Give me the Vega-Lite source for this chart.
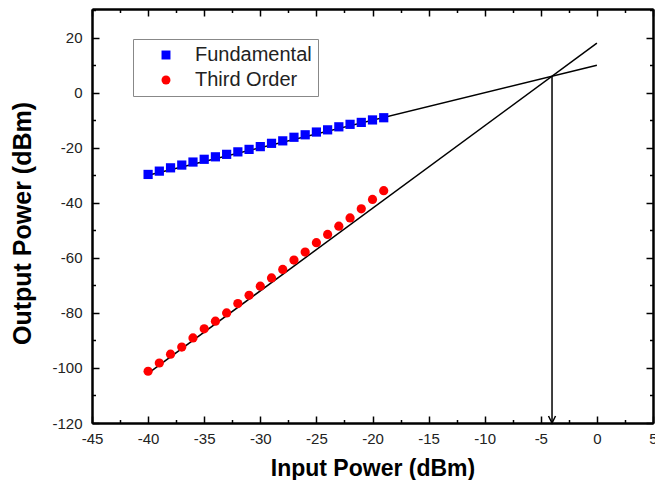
{
  "$schema": "https://vega.github.io/schema/vega-lite/v6.json",
  "width": 561,
  "height": 414,
  "autosize": {"type": "none"},
  "padding": {"left": 92, "top": 9, "right": 2, "bottom": 57},
  "background": "white",
  "config": {
    "view": {"stroke": null},
    "axis": {
      "grid": false,
      "domainColor": "black",
      "domainWidth": 2,
      "tickColor": "black",
      "tickWidth": 1.5,
      "labelFont": "Liberation Sans",
      "labelFontSize": 15,
      "labelColor": "#222",
      "titleFont": "Liberation Sans",
      "titleFontWeight": "bold",
      "titleColor": "black"
    },
    "legend": {
      "strokeColor": "#888",
      "fillColor": "white",
      "padding": 6,
      "labelFont": "Liberation Sans",
      "labelFontSize": 20,
      "labelColor": "#222",
      "labelOffset": 19,
      "symbolOffset": 17,
      "rowPadding": 5,
      "symbolSize": 80,
      "symbolStrokeWidth": 0
    }
  },
  "datasets": {
    "points": [
      {"series": "Fundamental", "x": -40, "y": -29.7},
      {"series": "Fundamental", "x": -39, "y": -28.5},
      {"series": "Fundamental", "x": -38, "y": -27.3},
      {"series": "Fundamental", "x": -37, "y": -26.3},
      {"series": "Fundamental", "x": -36, "y": -25.2},
      {"series": "Fundamental", "x": -35, "y": -24.2},
      {"series": "Fundamental", "x": -34, "y": -23.3},
      {"series": "Fundamental", "x": -33, "y": -22.4},
      {"series": "Fundamental", "x": -32, "y": -21.5},
      {"series": "Fundamental", "x": -31, "y": -20.6},
      {"series": "Fundamental", "x": -30, "y": -19.6},
      {"series": "Fundamental", "x": -29, "y": -18.4},
      {"series": "Fundamental", "x": -28, "y": -17.5},
      {"series": "Fundamental", "x": -27, "y": -16.2},
      {"series": "Fundamental", "x": -26, "y": -15.3},
      {"series": "Fundamental", "x": -25, "y": -14.3},
      {"series": "Fundamental", "x": -24, "y": -13.5},
      {"series": "Fundamental", "x": -23, "y": -12.4},
      {"series": "Fundamental", "x": -22, "y": -11.5},
      {"series": "Fundamental", "x": -21, "y": -10.8},
      {"series": "Fundamental", "x": -20, "y": -9.9},
      {"series": "Fundamental", "x": -19, "y": -9.1},
      {"series": "Third Order", "x": -40, "y": -101.2},
      {"series": "Third Order", "x": -39, "y": -98.2},
      {"series": "Third Order", "x": -38, "y": -95.0},
      {"series": "Third Order", "x": -37, "y": -92.4},
      {"series": "Third Order", "x": -36, "y": -89.1},
      {"series": "Third Order", "x": -35, "y": -85.8},
      {"series": "Third Order", "x": -34, "y": -83.0},
      {"series": "Third Order", "x": -33, "y": -80.0},
      {"series": "Third Order", "x": -32, "y": -76.6},
      {"series": "Third Order", "x": -31, "y": -73.6},
      {"series": "Third Order", "x": -30, "y": -70.3},
      {"series": "Third Order", "x": -29, "y": -67.3},
      {"series": "Third Order", "x": -28, "y": -64.2},
      {"series": "Third Order", "x": -27, "y": -60.8},
      {"series": "Third Order", "x": -26, "y": -57.9},
      {"series": "Third Order", "x": -25, "y": -54.5},
      {"series": "Third Order", "x": -24, "y": -51.5},
      {"series": "Third Order", "x": -23, "y": -48.5},
      {"series": "Third Order", "x": -22, "y": -45.5},
      {"series": "Third Order", "x": -21, "y": -42.2},
      {"series": "Third Order", "x": -20, "y": -38.8},
      {"series": "Third Order", "x": -19, "y": -35.6}
    ],
    "fits": [
      {"fit": "fundamental", "x": -40, "y": -30},
      {"fit": "fundamental", "x": 0, "y": 10},
      {"fit": "third", "x": -40, "y": -102},
      {"fit": "third", "x": 0, "y": 18}
    ],
    "arrow": [{"x": -4, "y": 6, "y2": -120}]
  },
  "layer": [
    {
      "data": {"name": "fits"},
      "mark": {"type": "line", "color": "black", "strokeWidth": 1.5},
      "encoding": {
        "x": {
          "field": "x", "type": "quantitative",
          "scale": {"domain": [-45, 5], "nice": false, "zero": false},
          "axis": {
            "orient": "bottom",
            "values": [-45, -40, -35, -30, -25, -20, -15, -10, -5, 0, 5],
            "labelExpr": "'' + datum.value",
            "tickSize": -7,
            "labelPadding": 15,
            "labelFlush": false,
            "title": "Input Power (dBm)",
            "titleFontSize": 23,
            "titleBaseline": "alphabetic",
            "titleY": 52
          }
        },
        "y": {
          "field": "y", "type": "quantitative",
          "scale": {"domain": [-120, 30.4], "nice": false, "zero": false},
          "axis": {
            "orient": "left",
            "values": [-120, -100, -80, -60, -40, -20, 0, 20],
            "labelExpr": "'' + datum.value",
            "tickSize": -7,
            "labelPadding": 17,
            "labelFlush": false,
            "title": "Output Power (dBm)",
            "titleFontSize": 25,
            "titleAngle": -90,
            "titleAlign": "center",
            "titleBaseline": "middle",
            "titleX": -70,
            "titleY": 214
          }
        },
        "detail": {"field": "fit"}
      }
    },
    {
      "data": {"name": "arrow"},
      "mark": {"type": "rule", "color": "black", "strokeWidth": 1.5},
      "encoding": {
        "x": {
          "field": "x", "type": "quantitative",
          "scale": {"domain": [-45, 5], "nice": false, "zero": false},
          "axis": {
            "orient": "bottom",
            "values": [-42.5, -37.5, -32.5, -27.5, -22.5, -17.5, -12.5, -7.5, -2.5, 2.5],
            "tickSize": -3.5,
            "labels": false,
            "title": null
          }
        },
        "y": {
          "field": "y", "type": "quantitative",
          "scale": {"domain": [-120, 30.4], "nice": false, "zero": false},
          "axis": {
            "orient": "left",
            "values": [-110, -90, -70, -50, -30, -10, 10, 30],
            "tickSize": -3.5,
            "labels": false,
            "title": null
          }
        },
        "y2": {"field": "y2"}
      }
    },
    {
      "data": {"name": "arrow"},
      "mark": {"type": "point", "shape": "M-1,-2L0,0L1,-2", "size": 49, "filled": false, "color": "black", "strokeWidth": 1.5, "opacity": 1},
      "encoding": {
        "x": {
          "field": "x", "type": "quantitative",
          "scale": {"domain": [-45, 5], "nice": false, "zero": false},
          "axis": {
            "orient": "top",
            "values": [-45, -40, -35, -30, -25, -20, -15, -10, -5, 0, 5],
            "tickSize": -7,
            "labels": false,
            "title": null
          }
        },
        "y": {
          "field": "y2", "type": "quantitative",
          "scale": {"domain": [-120, 30.4], "nice": false, "zero": false},
          "axis": {
            "orient": "right",
            "values": [-120, -100, -80, -60, -40, -20, 0, 20],
            "tickSize": -7,
            "labels": false,
            "title": null
          }
        }
      }
    },
    {
      "data": {"name": "points"},
      "mark": {"type": "point", "filled": true, "opacity": 1, "size": 85},
      "encoding": {
        "x": {
          "field": "x", "type": "quantitative",
          "scale": {"domain": [-45, 5], "nice": false, "zero": false},
          "axis": {
            "orient": "top",
            "values": [-42.5, -37.5, -32.5, -27.5, -22.5, -17.5, -12.5, -7.5, -2.5, 2.5],
            "tickSize": -3.5,
            "labels": false,
            "title": null
          }
        },
        "y": {
          "field": "y", "type": "quantitative",
          "scale": {"domain": [-120, 30.4], "nice": false, "zero": false},
          "axis": {
            "orient": "right",
            "values": [-110, -90, -70, -50, -30, -10, 10, 30],
            "tickSize": -3.5,
            "labels": false,
            "title": null
          }
        },
        "color": {
          "field": "series", "type": "nominal",
          "scale": {"domain": ["Fundamental", "Third Order"], "range": ["#0000ff", "#ff0000"]},
          "legend": {"title": null, "orient": "none", "legendX": 41, "legendY": 30}
        },
        "shape": {
          "field": "series", "type": "nominal",
          "scale": {"domain": ["Fundamental", "Third Order"], "range": ["square", "circle"]},
          "legend": {"title": null, "orient": "none", "legendX": 41, "legendY": 30}
        }
      }
    }
  ],
  "resolve": {"axis": {"x": "independent", "y": "independent"}}
}
